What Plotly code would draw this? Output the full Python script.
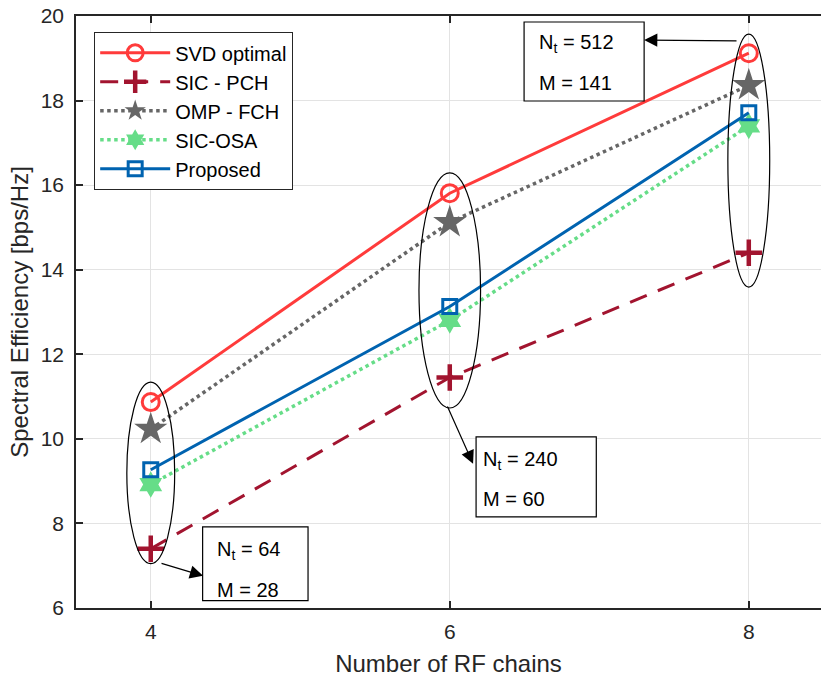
import plotly.graph_objects as go

# ---- data ----
rf_chains = [4, 6, 8]
svd_optimal = [10.87, 15.81, 19.12]
sic_pch = [7.40, 11.45, 14.40]
omp_fch = [10.23, 15.12, 18.36]
sic_osa = [8.92, 12.80, 17.40]
proposed = [9.27, 13.13, 17.71]

x_ticks = [4, 6, 8]
y_ticks = [6, 8, 10, 12, 14, 16, 18, 20]

# annotation labels
box_lines = [
    ("N<sub>t</sub> = 64", "M = 28"),
    ("N<sub>t</sub> = 240", "M = 60"),
    ("N<sub>t</sub> = 512", "M = 141"),
]

FONT = "Liberation Sans, Arial, sans-serif"
AX = "#262626"

fig = go.Figure()

fig.add_trace(go.Scatter(
    x=rf_chains, y=svd_optimal, name="SVD optimal", mode="lines+markers",
    line=dict(color="#FF3B3B", width=3),
    marker=dict(symbol="circle-open", size=17, line=dict(width=3, color="#FF3B3B"))))
fig.add_trace(go.Scatter(
    x=rf_chains, y=sic_pch, name="SIC - PCH", mode="lines+markers",
    line=dict(color="#A2142F", width=3, dash="18px,12px"),
    marker=dict(symbol="cross-thin-open", size=19, line=dict(width=4.5, color="#A2142F"))))
fig.add_trace(go.Scatter(
    x=rf_chains, y=omp_fch, name="OMP - FCH", mode="lines+markers",
    line=dict(color="#666666", width=3.5, dash="dot"),
    marker=dict(symbol="star", size=25, color="#666666", line=dict(width=0))))
fig.add_trace(go.Scatter(
    x=rf_chains, y=sic_osa, name="SIC-OSA", mode="lines+markers",
    line=dict(color="#66DD88", width=3.5, dash="dot"),
    marker=dict(symbol="hexagram", size=20, color="#66DD88", line=dict(width=0))))
fig.add_trace(go.Scatter(
    x=rf_chains, y=proposed, name="Proposed", mode="lines+markers",
    line=dict(color="#0063B0", width=3),
    marker=dict(symbol="square-open", size=14, line=dict(width=3, color="#0063B0"))))

# ellipses around groups of points
ellipses = [
    (3.84, 4.16, 7.05, 11.34),
    (5.794, 6.206, 10.73, 16.29),
    (7.86, 8.14, 13.59, 19.57),
]
for x0, x1, y0, y1 in ellipses:
    fig.add_shape(type="circle", xref="x", yref="y", x0=x0, x1=x1, y0=y0, y1=y1,
                  line=dict(color="black", width=1.2), layer="above")

# text boxes
boxes = [
    (4.347, 5.052, 6.174, 7.917),
    (6.176, 6.980, 8.153, 10.045),
    (6.497, 7.300, 17.99, 19.858),
]
for x0, x1, y0, y1 in boxes:
    fig.add_shape(type="rect", xref="x", yref="y", x0=x0, x1=x1, y0=y0, y1=y1,
                  line=dict(color="black", width=1.2), fillcolor="white", layer="above")

text_pos = [
    (4.43, 7.36, 6.43),
    (6.207, 9.49, 8.58),
    (6.584, 19.34, 18.42),
]
for (xl, y_n, y_m), (t1, t2) in zip(text_pos, box_lines):
    fig.add_annotation(x=xl, y=y_n, text=t1, showarrow=False, xanchor="left",
                       yanchor="middle", font=dict(family=FONT, size=20, color="black"))
    fig.add_annotation(x=xl, y=y_m, text=t2, showarrow=False, xanchor="left",
                       yanchor="middle", font=dict(family=FONT, size=20, color="black"))

# arrows (head at box, tail at ellipse)
arrows = [
    (4.35, 6.76, 4.062, 7.065),
    (6.156, 9.41, 5.98, 10.80),
    (7.30, 19.43, 7.928, 19.41),
]
for hx, hy, tx, ty in arrows:
    fig.add_annotation(x=hx, y=hy, ax=tx, ay=ty, xref="x", yref="y", axref="x", ayref="y",
                       text="", showarrow=True, arrowhead=2, arrowsize=2.2,
                       arrowwidth=1.2, arrowcolor="black")

fig.update_layout(
    width=821, height=677,
    margin=dict(l=76, r=0, t=16, b=69),
    paper_bgcolor="white", plot_bgcolor="white",
    font=dict(family=FONT, color=AX),
    showlegend=True,
    legend=dict(x=0.024, y=0.973, xanchor="left", yanchor="top",
                bgcolor="white", bordercolor=AX, borderwidth=1.3,
                font=dict(family=FONT, size=20, color="black"),
                itemwidth=70, tracegroupgap=0),
    xaxis=dict(range=[3.5, 8.483], tickvals=x_ticks, ticks="inside", ticklen=7,
               tickwidth=1.5, tickcolor=AX, showline=True, linecolor=AX, linewidth=1.5,
               mirror="ticks", showgrid=True, gridcolor="#e3e3e3", gridwidth=1,
               zeroline=False, tickfont=dict(family=FONT, size=21, color=AX),
               ticklabelstandoff=4,
               title=dict(text="Number of RF chains", font=dict(family=FONT, size=24, color=AX),
                          standoff=13)),
    yaxis=dict(range=[6, 20], tickvals=y_ticks, ticks="inside", ticklen=7,
               tickwidth=1.5, tickcolor=AX, showline=True, linecolor=AX, linewidth=1.5,
               mirror=False, showgrid=True, gridcolor="#e3e3e3", gridwidth=1,
               zeroline=False, tickfont=dict(family=FONT, size=21, color=AX),
               ticklabelstandoff=6,
               title=dict(text="Spectral Efficiency [bps/Hz]",
                          font=dict(family=FONT, size=24, color=AX), standoff=5)),
)

fig.write_html("out.html")
